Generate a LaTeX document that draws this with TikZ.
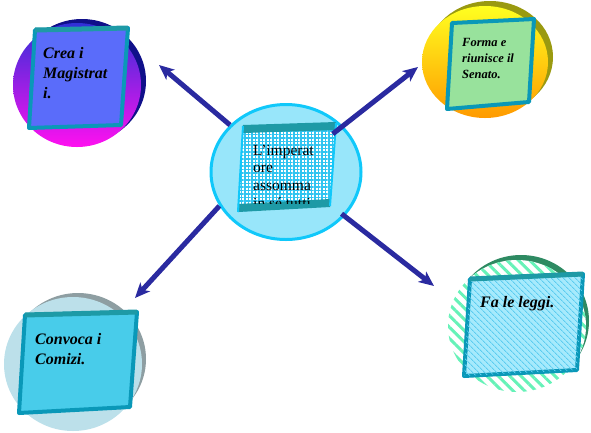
\documentclass[tikz,border=0pt]{standalone}
\usepackage{fontspec}
\setmainfont{Liberation Serif}
\usetikzlibrary{shapes.geometric, patterns.meta, arrows.meta}

\definecolor{navyarrow}{HTML}{2A2AA0}
\definecolor{panelrim}{HTML}{0A98B8}
\definecolor{paneltop}{HTML}{1E9AA6}
\definecolor{creatop}{HTML}{3030D8}
\definecolor{creabot}{HTML}{FF10F0}
\definecolor{creashade}{HTML}{10108A}
\definecolor{creafill}{HTML}{5A6CFA}
\definecolor{formatop}{HTML}{FFFF20}
\definecolor{formabot}{HTML}{FF9A00}
\definecolor{formashade}{HTML}{9A9A10}
\definecolor{formafill}{HTML}{98E29C}
\definecolor{impfill}{HTML}{98E6FA}
\definecolor{imprim}{HTML}{10C8FA}
\definecolor{impbox}{HTML}{30C4F0}
\definecolor{comfill}{HTML}{BCE0EA}
\definecolor{comshade}{HTML}{8E9EA2}
\definecolor{combox}{HTML}{48CCEA}
\definecolor{legstripe}{HTML}{66F2B8}
\definecolor{legshade}{HTML}{2E8A62}
\definecolor{legbox}{HTML}{A6EAFC}
\definecolor{legline}{HTML}{5CCCF0}

\begin{document}
\begin{tikzpicture}[x=1pt, y=-1pt, line join=round,
  blob/.style={ellipse, inner sep=0pt},
  panel/.style={draw=panelrim, line width=4pt},
  label/.style={anchor=base west, align=left, inner sep=0pt,
    font=\bfseries\itshape\fontsize{16}{20}\selectfont},
  arrow/.style={draw=navyarrow, line width=5pt,
    -{Stealth[length=15pt,width=13pt,inset=4pt]}}]

\useasboundingbox (0,0) rectangle (591,432);

%ellipses (shadow rim first)
\fill[creashade] (82,81) ellipse [x radius=64, y radius=62];
\node[blob, minimum width=128pt, minimum height=124pt,
  top color=creatop, bottom color=creabot] (crea) at (77,85) {};

\fill[formashade] (490,57) ellipse [x radius=63, y radius=56];
\node[blob, minimum width=126pt, minimum height=112pt,
  top color=formatop, bottom color=formabot] (forma) at (485,62) {};

\node[blob, minimum width=150pt, minimum height=135pt,
  fill=impfill, draw=imprim, line width=3pt] (imp) at (286,172) {};

\fill[comshade] (78,359) ellipse [x radius=68, y radius=66];
\node[blob, minimum width=138pt, minimum height=134pt,
  fill=comfill] (comizi) at (73,364) {};

\fill[legshade] (521,321) ellipse [x radius=68, y radius=66];
\node[blob, minimum width=138pt, minimum height=132pt, fill=white] (leggi) at (517,326) {};
\fill[pattern={Lines[angle=-45, distance=8pt, line width=3pt]}, pattern color=legstripe]
  (517,326) ellipse [x radius=69, y radius=66];

% panels
\filldraw[panel, fill=creafill] (35,30) -- (128,28) -- (121,125) -- (29,128) -- cycle;
\draw[paneltop, line width=5pt] (35,30) -- (128,28);
\filldraw[panel, fill=formafill] (452,23) -- (534,19) -- (529,102) -- (447,109) -- cycle;
\filldraw[panel, fill=combox] (25,315) -- (137,312) -- (130,407) -- (19,413) -- cycle;
\draw[paneltop, line width=5pt] (25,315) -- (137,312);
\filldraw[panel, fill=legbox] (470,279) -- (583,274) -- (577,370) -- (464,376) -- cycle;
\fill[pattern={Lines[angle=-45, distance=4pt, line width=1pt]}, pattern color=legline]
  (470,279) -- (583,274) -- (577,370) -- (464,376) -- cycle;
\draw[paneltop, line width=5pt] (470,279) -- (583,274);

\fill[white] (243,126) -- (336,123) -- (330,206) -- (238,212) -- cycle;
\fill[pattern={Hatch[angle=0, distance=3.5pt, line width=1.3pt]}, pattern color=impbox]
  (243,126) -- (336,123) -- (330,206) -- (238,212) -- cycle;
\draw[paneltop, line width=8pt] (243,129) -- (336,126);
\draw[paneltop, line width=8pt] (238,208) -- (330,203);
\draw[imprim, line width=2pt] (243,126) -- (238,212) (336,123) -- (330,206);

% texts (base = last line)
\node[label] (creatext) at (43,98) {Crea i\\Magistrat\\i.};
\node[label, font=\bfseries\itshape\fontsize{12.5}{16}\selectfont]
  (formatext) at (462,78) {Forma e\\riunisce il\\Senato.};
\node[label] (comtext) at (35,364) {Convoca i\\Comizi.};
\node[label] (legtext) at (480,307) {Fa le leggi.};
\begin{scope}
  \clip (238,126) rectangle (336,203);
  \node[label, font=\fontsize{15.5}{17.8}\selectfont]
    (imptext) at (253,208.4) {L'imperat\\ore\\assomma\\in sé tutti};
\end{scope}

% arrows
\coordinate (tipCrea) at (159,65);
\coordinate (tipForma) at (418,67);
\coordinate (tipComizi) at (135,298);
\coordinate (tipLeggi) at (434,286);
\draw[arrow] (imp.140) -- (tipCrea);
\draw[arrow, shorten <=-13pt] (imp.39) -- (tipForma);
\draw[arrow] (imp.207) -- (tipComizi);
\draw[arrow, shorten <=-4pt] (imp.323) -- (tipLeggi);

\end{tikzpicture}
\end{document}
